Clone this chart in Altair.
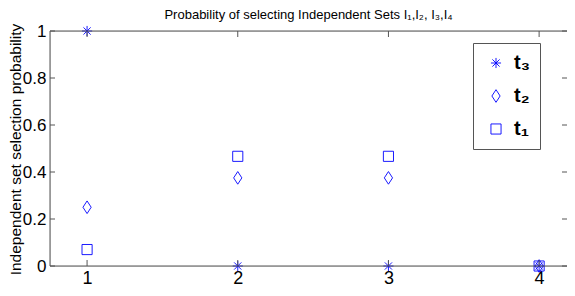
import altair as alt
import pandas as pd

# ---- data ----
sets = [1, 2, 3, 4]
t3 = [1.0, 0.0, 0.0, 0.0]
t2 = [0.25, 0.375, 0.375, 0.0]
t1 = [0.07, 0.4667, 0.4667, 0.0]
series_names = ["t₃", "t₂", "t₁"]
y_ticks = [0, 0.2, 0.4, 0.6, 0.8, 1.0]
x_ticks = [1, 2, 3, 4]

rows = []
for name, vals in zip(series_names, [t3, t2, t1]):
    for s, v in zip(sets, vals):
        rows.append({"set": s, "p": v, "series": name})
df = pd.DataFrame(rows)
df_y = pd.DataFrame({"v": y_ticks})
df_x = pd.DataFrame({"v": x_ticks})
one = pd.DataFrame({"k": [0]})

W, H = 517, 235
FONT = "Liberation Sans"
AX = "#555555"

star = "M-0.8,0L0.8,0M0,-0.8L0,0.8M-0.57,-0.57L0.57,0.57M-0.57,0.57L0.57,-0.57"
diamond = "M0,-1L0.65,0L0,1L-0.65,0Z"
square = "M-0.8,-0.8L0.8,-0.8L0.8,0.8L-0.8,0.8Z"

xscale = alt.Scale(domain=[0.754, 4.185], nice=False, zero=False)
yscale = alt.Scale(domain=[0, 1], nice=False)

points = alt.Chart(df).mark_point(filled=False, strokeWidth=0.9, opacity=1, size=160).encode(
    x=alt.X("set:Q", scale=xscale,
            axis=alt.Axis(values=x_ticks, title=None, format="d", ticks=False, domain=False,
                          grid=False, labelFontSize=18, labelFont=FONT, labelColor="black",
                          labelPadding=3)),
    y=alt.Y("p:Q", scale=yscale,
            axis=alt.Axis(values=y_ticks, title="Independent set selection probability",
                          ticks=False, domain=False, grid=False, labelFontSize=17,
                          labelFont=FONT, labelColor="black", labelPadding=4,
                          titleFont=FONT, titleFontSize=15.5, titleFontWeight="normal",
                          titleColor="black", titleX=-30, titleY=118, titleAngle=270,
                          titleAlign="center", titleBaseline="alphabetic",
                          labelExpr="datum.value == 0 ? '0' : datum.value == 1 ? '1' : format(datum.value, '.1f')")),
    shape=alt.Shape("series:N",
                    scale=alt.Scale(domain=series_names, range=[star, diamond, square]),
                    legend=alt.Legend(title=None, orient="none", legendX=423, legendY=12,
                                      padding=10, rowPadding=13, strokeColor=AX,
                                      fillColor="white", labelFont=FONT, labelFontSize=20,
                                      labelFontWeight="bold", labelColor="black",
                                      symbolSize=160, symbolStrokeWidth=0.9,
                                      symbolStrokeColor="#0000ff", symbolFillColor="transparent",
                                      symbolOffset=3, labelOffset=8)),
    color=alt.value("#0000ff"),
)

left = alt.Chart(df_y).mark_rule(color=AX).encode(
    y=alt.Y("v:Q", scale=yscale), x=alt.value(0), x2=alt.value(5))
right = alt.Chart(df_y).mark_rule(color=AX).encode(
    y=alt.Y("v:Q", scale=yscale), x=alt.value(W - 5), x2=alt.value(W))
bottom = alt.Chart(df_x).mark_rule(color=AX).encode(
    x=alt.X("v:Q", scale=xscale), y=alt.value(H - 6), y2=alt.value(H))
top = alt.Chart(df_x).mark_rule(color=AX).encode(
    x=alt.X("v:Q", scale=xscale), y=alt.value(0), y2=alt.value(6))

frame_top = alt.Chart(one).mark_rule(color=AX).encode(
    x=alt.value(0), x2=alt.value(W), y=alt.value(0))
frame_bottom = alt.Chart(one).mark_rule(color=AX).encode(
    x=alt.value(0), x2=alt.value(W), y=alt.value(H))
frame_left = alt.Chart(one).mark_rule(color=AX).encode(
    x=alt.value(0), y=alt.value(0), y2=alt.value(H))

chart = alt.layer(points, left, right, bottom, top, frame_top, frame_bottom, frame_left).properties(
    width=W, height=H,
    title=alt.TitleParams("Probability of selecting Independent Sets I₁,I₂, I₃,I₄",
                          font=FONT, fontSize=13, fontWeight="normal", color="black",
                          anchor="middle", offset=6, dy=6),
    autosize=alt.AutoSizeParams(type="none"),
    padding={"left": 42, "top": 23, "right": 0, "bottom": 22},
).configure_view(stroke=None).configure(background="white")

chart.save("out.html", embed_options={"renderer": "svg", "actions": False})
